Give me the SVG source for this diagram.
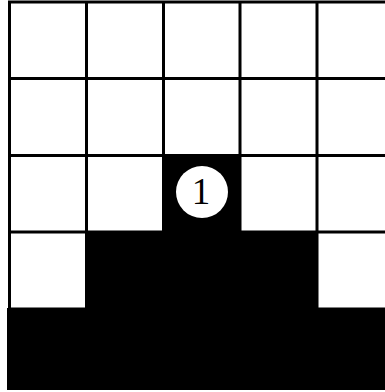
<svg xmlns="http://www.w3.org/2000/svg" width="385" height="392" viewBox="0 0 385 392">
<style>
.g{stroke:#000;stroke-width:3;fill:none}
.b{fill:#000}
.t{font-family:"Liberation Serif",serif;font-size:37px;fill:#000;text-anchor:middle}
</style>
<rect width="385" height="392" fill="#fff"/>
<g id="grid">
<path class="g" d="M9.5 1V389M86.5 1V389M163.5 1V389M240 1V389M317 1V389M8 2H385M8 78.5H385M8 155.5H385M8 232H385M8 309H385"/>
</g>
<g id="filled">
<rect class="b" x="162" y="154" width="79" height="79"/>
<rect class="b" x="85" y="231" width="233" height="80"/>
<rect class="b" x="7" y="308" width="378" height="82"/>
</g>
<g id="marker1">
<circle cx="202" cy="192" r="26" fill="#fff"/>
<text class="t" x="201" y="204">1</text>
</g>
</svg>
